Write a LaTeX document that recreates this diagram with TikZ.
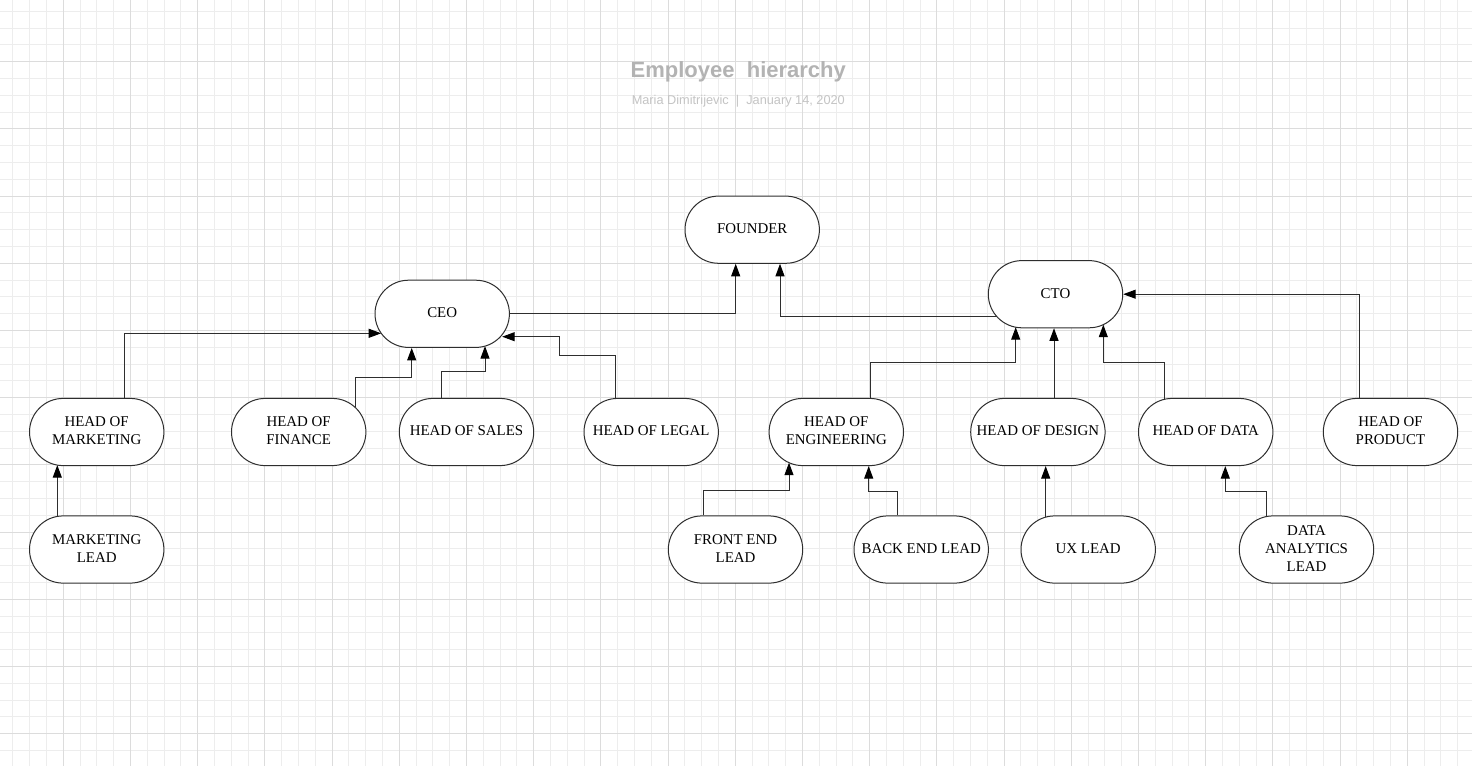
\documentclass[tikz,border=0pt]{standalone}
\usepackage{fontspec}
\setmainfont{Liberation Serif}
\newfontfamily\sansfont{Liberation Sans}
\usetikzlibrary{calc,arrows.meta}
\definecolor{gridminor}{HTML}{EDEDED}
\definecolor{gridmajor}{HTML}{DCDCDC}
\definecolor{titlegray}{HTML}{B3B3B3}
\definecolor{subgray}{HTML}{C4C4C4}
\definecolor{edge}{HTML}{2E2E2E}
\begin{document}
\begin{tikzpicture}[x=1pt,y=-1pt,
  box/.style={draw=edge, line width=1pt, fill=white, rectangle, rounded corners=33.6pt,
    minimum width=134.4pt, minimum height=67.2pt, inner sep=0pt, align=center,
    text depth=2pt, font=\fontsize{14.9}{18}\selectfont},
  link/.style={draw=edge, line width=1pt, -{Triangle[length=12.5pt,width=9pt,color=black,fill=black]}},
  minorline/.style={draw=gridminor, line width=1pt},
  majorline/.style={draw=gridmajor, line width=1pt}]
\useasboundingbox (0,0) rectangle (1472,766);
\fill[white] (0,0) rectangle (1472,766);
\begin{scope}
\clip (0,0) rectangle (1472,766);
\foreach \i in {0,...,88} \draw[minorline] ({-3.9+16.8*\i},0) -- ({-3.9+16.8*\i},766);
\foreach \j in {0,...,46} \draw[minorline] (0,{-5.5+16.8*\j}) -- (1472,{-5.5+16.8*\j});
\foreach \i in {0,...,22} \draw[majorline] ({-3.9+67.2*\i},0) -- ({-3.9+67.2*\i},766);
\foreach \j in {0,...,11} \draw[majorline] (0,{-5.5+67.2*\j}) -- (1472,{-5.5+67.2*\j});
\end{scope}

\node[anchor=base, font=\sansfont\bfseries\fontsize{22}{26}\selectfont, text=titlegray, inner sep=0pt] (title) at (738.3,77.8) {Employee\ \ hierarchy};
\node[anchor=base, font=\sansfont\fontsize{12.75}{15}\selectfont, text=subgray, inner sep=0pt] (sub) at (738.3,104) {Maria Dimitrijevic\ \ |\ \ January 14, 2020};

\node[box] (founder) at (752.2,229.7) {FOUNDER};
\node[box] (ceo) at (442.2,313.8) {CEO};
\node[box] (cto) at (1055.5,294.2) {CTO};
\node[box] (hmkt) at (96.7,432) {HEAD OF\\MARKETING};
\node[box] (hfin) at (298.7,432) {HEAD OF\\FINANCE};
\node[box] (hsal) at (466.5,432) {HEAD OF SALES};
\node[box] (hleg) at (651.2,432) {HEAD OF LEGAL};
\node[box] (heng) at (836.3,432) {HEAD OF\\ENGINEERING};
\node[box] (hdes) at (1037.9,432) {HEAD OF DESIGN};
\node[box] (hdat) at (1205.7,432) {HEAD OF DATA};
\node[box] (hprod) at (1390.5,432) {HEAD OF\\PRODUCT};
\node[box] (mlead) at (96.7,549.5) {MARKETING\\LEAD};
\node[box] (felead) at (735.5,549.5) {FRONT END\\LEAD};
\node[box] (belead) at (921.2,549.5) {BACK END LEAD};
\node[box] (uxlead) at (1088.2,549.5) {UX LEAD};
\node[box] (dalead) at (1306.5,549.5) {DATA\\ANALYTICS\\LEAD};

\draw[link] ($(hmkt.north)+(27.7,0)$) |- ($(ceo.center)+(-61,19.5)$);
\draw[link] ($(mlead.center)+(-39.4,-33.1)$) -- ($(hmkt.center)+(-39.4,33.1)$);
\draw[link] ($(hfin.center)+(56.3,-24.8)$) |- ($(ceo.south)+(-30.5,29.3)$) -- ($(ceo.south)+(-30.5,0)$);
\draw[link] ($(hsal.north)+(-25.5,0)$) |- ($(ceo.center)+(42.8,57.9)$) -- ($(ceo.center)+(42.8,32.3)$);
\draw[link] ($(hleg.north)+(-35.5,0)$) |- ($(ceo.center)+(117.1,41.2)$) |- ($(ceo.center)+(60,22.9)$);
\draw[link] (ceo.east) -| ($(founder.south)+(-16.5,0)$);
\draw[link] ($(cto.center)+(-58.6,22.5)$) -| ($(founder.south)+(27.8,0)$);
\draw[link] ($(heng.north)+(34.4,0)$) |- ($(cto.center)+(-39.8,68.5)$) -- ($(cto.center)+(-39.8,33)$);
\coordinate (d1) at ($(hdes.north)+(16.1,0)$);
\draw[link] (d1) -- (d1 |- cto.south);
\draw[link] ($(hdat.center)+(-41.4,-32.7)$) |- ($(cto.center)+(47.8,68.1)$) -- ($(cto.center)+(47.8,30.5)$);
\draw[link] ($(hprod.north)+(-31.2,0)$) |- (cto.east);
\draw[link] ($(felead.north)+(-32.2,0)$) |- ($(heng.center)+(-47.3,58)$) -- ($(heng.center)+(-47.3,30.7)$);
\draw[link] ($(belead.north)+(-23.5,0)$) |- ($(heng.south)+(32.4,25.1)$) -- ($(heng.south)+(32.4,0)$);
\coordinate (u1) at ($(uxlead.center)+(-42.5,-32.4)$);
\draw[link] (u1) -- (u1 |- hdes.south);
\draw[link] ($(dalead.center)+(-39.8,-33)$) |- ($(hdat.south)+(19.6,25.1)$) -- ($(hdat.south)+(19.6,0)$);
\end{tikzpicture}
\end{document}
